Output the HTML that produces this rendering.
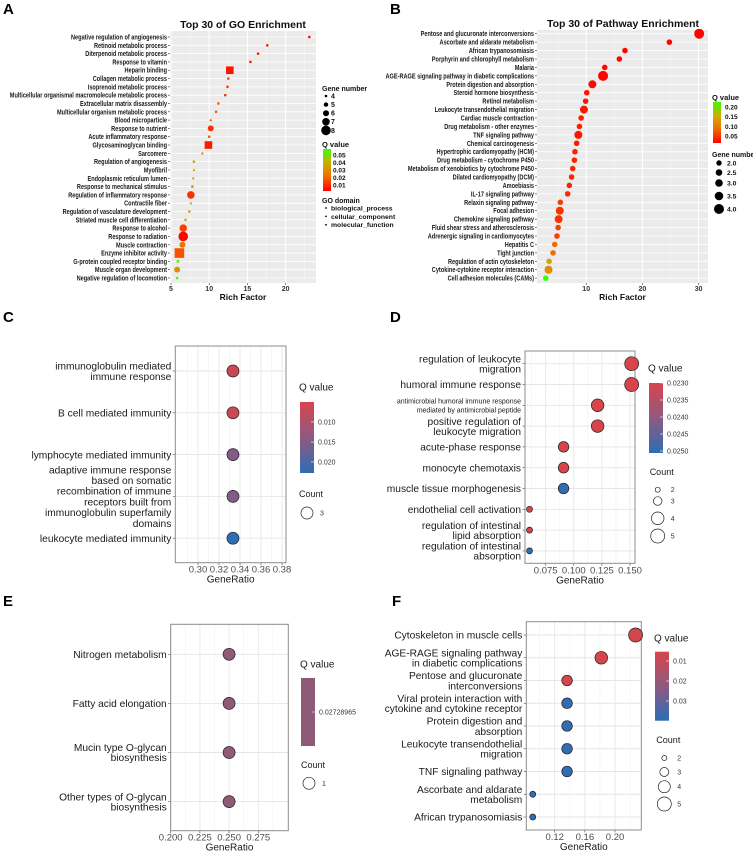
<!DOCTYPE html>
<html><head><meta charset="utf-8"><style>
html,body{margin:0;padding:0;background:#fff;width:753px;height:854px;overflow:hidden}
svg{display:block;font-family:"Liberation Sans",Arial,sans-serif}
</style></head><body>
<svg id="fig" xmlns="http://www.w3.org/2000/svg" width="753" height="854" viewBox="0 0 753 854">
<defs>
<linearGradient id="gA" x1="0" y1="0" x2="0" y2="1"><stop offset="0" stop-color="#3cff00"/><stop offset="0.35" stop-color="#d2aa00"/><stop offset="0.65" stop-color="#f06e00"/><stop offset="1" stop-color="#ff0000"/></linearGradient>
<linearGradient id="gRB" x1="0" y1="0" x2="0" y2="1"><stop offset="0" stop-color="#d8444c"/><stop offset="0.5" stop-color="#8e5a80"/><stop offset="1" stop-color="#2e6db4"/></linearGradient>
</defs>
</svg>
<script>
// ---------- Panel A data ----------
const aTerms=["Negative regulation of angiogenesis","Retinoid metabolic process","Diterpenoid metabolic process","Response to vitamin","Heparin binding","Collagen metabolic process","Isoprenoid metabolic process","Multicellular organismal macromolecule metabolic process","Extracellular matrix disassembly","Multicellular organism metabolic process","Blood microparticle","Response to nutrient","Acute inflammatory response","Glycosaminoglycan binding","Sarcomere","Regulation of angiogenesis","Myofibril","Endoplasmic reticulum lumen","Response to mechanical stimulus","Regulation of inflammatory response","Contractile fiber","Regulation of vasculature development","Striated muscle cell differentiation","Response to alcohol","Response to radiation","Muscle contraction","Enzyme inhibitor activity","G-protein coupled receptor binding","Muscle organ development","Negative regulation of locomotion"];
const aRich=[23.1,17.6,16.4,15.4,12.7,12.5,12.4,12.1,11.2,10.9,10.2,10.2,10.0,9.9,9.1,8.0,8.0,7.9,7.8,7.6,7.6,7.4,6.9,6.6,6.6,6.5,6.1,5.9,5.8,5.8];
const aGenes=[4,4,4,4,7,4,4,4,4,4,4,6,4,7,4,4,4,4,4,7,4,4,4,7,8,6,8,4,6,4];
const aQ=[0.006,0.008,0.008,0.008,0.007,0.015,0.015,0.012,0.02,0.02,0.02,0.012,0.02,0.008,0.025,0.035,0.035,0.032,0.03,0.012,0.035,0.035,0.045,0.015,0.004,0.025,0.018,0.055,0.033,0.058];
const aDomain=["bp","bp","bp","bp","mf","bp","bp","bp","bp","bp","cc","bp","bp","mf","cc","bp","cc","cc","bp","bp","cc","bp","bp","bp","bp","bp","mf","mf","bp","bp"];
const aTicks=[5,10,15,20];
// ---------- Panel B data ----------
const bTerms=["Pentose and glucuronate interconversions","Ascorbate and aldarate metabolism","African trypanosomiasis","Porphyrin and chlorophyll metabolism","Malaria","AGE-RAGE signaling pathway in diabetic complications","Protein digestion and absorption","Steroid hormone biosynthesis","Retinol metabolism","Leukocyte transendothelial migration","Cardiac muscle contraction","Drug metabolism - other enzymes","TNF signaling pathway","Chemical carcinogenesis","Hypertrophic cardiomyopathy (HCM)","Drug metabolism - cytochrome P450","Metabolism of xenobiotics by cytochrome P450","Dilated cardiomyopathy (DCM)","Amoebiasis","IL-17 signaling pathway","Relaxin signaling pathway","Focal adhesion","Chemokine signaling pathway","Fluid shear stress and atherosclerosis","Adrenergic signaling in cardiomyocytes","Hepatitis C","Tight junction","Regulation of actin cytoskeleton","Cytokine-cytokine receptor interaction","Cell adhesion molecules (CAMs)"];
const bRich=[30.1,24.8,16.9,15.9,13.3,13.0,11.1,10.1,9.9,9.6,9.1,8.8,8.6,8.3,8.0,7.9,7.6,7.4,7.0,6.7,5.4,5.3,5.1,5.0,4.8,4.4,4.1,3.4,3.3,2.8];
const bGenes=[4,2,2,2,2,4,3,2,2,3,2,2,3,2,2,2,2,2,2,2,2,3,3,2,2,2,2,2,3,2];
const bQ=[0.008,0.008,0.008,0.008,0.01,0.008,0.012,0.02,0.02,0.02,0.025,0.03,0.02,0.025,0.03,0.03,0.03,0.03,0.03,0.035,0.05,0.04,0.04,0.05,0.05,0.08,0.08,0.14,0.11,0.22];
const bTicks=[10,20,30];
// ---------- Panel C data ----------
const cTerms=[["immunoglobulin mediated","immune response"],["B cell mediated immunity"],["lymphocyte mediated immunity"],["adaptive immune response","based on somatic","recombination of immune","receptors built from","immunoglobulin superfamily","domains"],["leukocyte mediated immunity"]];
const cRatio=[0.3333,0.3333,0.3333,0.3333,0.3333];
const cQ=[0.0065,0.0065,0.015,0.015,0.0225];
const cTicks=[0.30,0.32,0.34,0.36,0.38];
const cTickLabels=["0.30","0.32","0.34","0.36","0.38"];
// ---------- Panel D data ----------
const dTerms=[["regulation of leukocyte","migration"],["humoral immune response"],["antimicrobial humoral immune response","mediated by antimicrobial peptide"],["positive regulation of ","leukocyte migration"],["acute-phase response"],["monocyte chemotaxis"],["muscle tissue morphogenesis"],["endothelial cell activation"],["regulation of intestinal","lipid absorption"],["regulation of intestinal","absorption"]];
const dRatio=[0.1515,0.1515,0.1212,0.1212,0.0909,0.0909,0.0909,0.0606,0.0606,0.0606];
const dCount=[5,5,4,4,3,3,3,2,2,2];
const dQ=[0.023,0.023,0.023,0.023,0.023,0.023,0.025,0.023,0.023,0.025];
const dTicks=[0.075,0.100,0.125,0.150];
const dTickLabels=["0.075","0.100","0.125","0.150"];
// ---------- Panel E data ----------
const eTerms=[["Nitrogen metabolism"],["Fatty acid elongation"],["Mucin type O-glycan","biosynthesis"],["Other types of O-glycan","biosynthesis"]];
const eRatio=[0.25,0.25,0.25,0.25];
const eTicks=[0.200,0.225,0.250,0.275];
const eTickLabels=["0.200","0.225","0.250","0.275"];
// ---------- Panel F data ----------
const fTerms=[["Cytoskeleton in muscle cells"],["AGE-RAGE signaling pathway","in diabetic complications"],["Pentose and glucuronate","interconversions"],["Viral protein interaction with","cytokine and cytokine receptor"],["Protein digestion and","absorption"],["Leukocyte transendothelial","migration"],["TNF signaling pathway"],["Ascorbate and aldarate","metabolism"],["African trypanosomiasis"]];
const fRatio=[0.2273,0.1818,0.1364,0.1364,0.1364,0.1364,0.1364,0.0909,0.0909];
const fCount=[5,4,3,3,3,3,3,2,2];
const fQ=[0.006,0.006,0.006,0.039,0.039,0.039,0.039,0.039,0.039];
const fTicks=[0.12,0.16,0.20];
const fTickLabels=["0.12","0.16","0.20"];

const NS='http://www.w3.org/2000/svg';
const svg=document.getElementById('fig');
function mk(tag,attrs,parent){const e=document.createElementNS(NS,tag);for(const k in attrs)e.setAttribute(k,attrs[k]);(parent||svg).appendChild(e);return e;}
function txt(s,attrs,parent){const e=mk('text',attrs,parent);e.textContent=s;return e;}
function lerpStops(stops,t){t=Math.max(0,Math.min(1,t));for(let i=1;i<stops.length;i++){if(t<=stops[i][0]){const a=stops[i-1],b=stops[i];const u=(t-a[0])/(b[0]-a[0]);return 'rgb('+[1,2,3].map(j=>Math.round(a[j]+(b[j]-a[j])*u)).join(',')+')';}}const l=stops[stops.length-1];return 'rgb('+l[1]+','+l[2]+','+l[3]+')';}
const RGstops=[[0,255,0,0],[0.35,240,110,0],[0.65,210,170,0],[1,60,255,0]];
const RBstops=[[0,216,68,76],[0.5,142,90,128],[1,46,109,180]];

[["A",3,14],["B",390,14],["C",3,322],["D",390,322],["E",3,606],["F",392,606]].forEach(p=>{
  const e=txt(p[0],{x:p[1],y:p[2],'font-size':15,'font-weight':'bold',fill:'#000'});
  
  
});

function grayPanel(o){
  const g=mk('g',{});
  
  
  const bg=mk('rect',{x:o.L,y:o.T,width:o.R-o.L,height:o.B-o.T,fill:'#ebebeb'},g);
  
  
  o.minor.forEach(v=>{const l=mk('line',{x1:o.x(v),x2:o.x(v),y1:o.T,y2:o.B,stroke:'#f7f7f7','stroke-width':0.5},g);});
  o.ticks.forEach(v=>{const l=mk('line',{x1:o.x(v),x2:o.x(v),y1:o.T,y2:o.B,stroke:'#fff','stroke-width':1},g);
    const tl=mk('line',{x1:o.x(v),x2:o.x(v),y1:o.B,y2:o.B+2,stroke:'#333','stroke-width':0.6},g);
    const t=txt(String(v),{x:o.x(v),y:o.B+8,'font-size':7,'font-weight':'bold','text-anchor':'middle',fill:'#333'},g);});
  o.terms.forEach((s,i)=>{const y=o.y(i);
    const l=mk('line',{x1:o.L,x2:o.R,y1:y,y2:y,stroke:'#fff','stroke-width':0.8},g);
    const tk=mk('line',{x1:o.L-2,x2:o.L,y1:y,y2:y,stroke:'#333','stroke-width':0.6},g);
    const t=txt(s,{transform:'translate('+(o.L-3)+','+(y+2.5)+') scale(0.8,1)','font-size':7,'font-weight':'bold','text-anchor':'end',fill:'#1a1a1a'},g);});
  const tt=txt(o.title,{x:o.tx,y:o.ty,'font-size':10.5,'font-weight':'bold','text-anchor':'middle',fill:'#111'},g);
  
  const xt=txt('Rich Factor',{x:(o.L+o.R)/2,y:o.B+17,'font-size':8.5,'font-weight':'bold','text-anchor':'middle',fill:'#111'},g);
  
  return g;
}

const xA=v=>171+(v-5)*7.64, yA=i=>37+i*8.31;
const rA={4:1.3,5:2.2,6:3,7:3.8,8:4.8};
const gA=grayPanel({name:'panel-a-go-enrichment',L:170,R:316,T:31,B:283,x:xA,y:yA,ticks:aTicks,minor:[7.5,12.5,17.5,22.5],terms:aTerms,title:'Top 30 of GO Enrichment',tx:243,ty:28});
aTerms.forEach((s,i)=>{
  const cx=xA(aRich[i]),cy=yA(i),r=rA[aGenes[i]],col=lerpStops(RGstops,(aQ[i]-0.003)/0.057);
  let e;
  if(aDomain[i]==='mf'){e=mk('rect',{x:cx-r,y:cy-r,width:2*r,height:2*r,fill:col},gA);}
  else if(aDomain[i]==='cc'){e=mk('polygon',{points:(cx)+','+(cy-r*1.2)+' '+(cx-r*1.1)+','+(cy+r*0.8)+' '+(cx+r*1.1)+','+(cy+r*0.8),fill:col},gA);}
  else{e=mk('circle',{cx:cx,cy:cy,r:r,fill:col},gA);}
  
  
});
(function(){
  const g=mk('g',{});
  
  const t1=txt('Gene  number',{x:322,y:91,'font-size':7,'font-weight':'bold',fill:'#111'},g);
  [4,5,6,7,8].forEach((n,k)=>{const y=96+k*8.6;const c=mk('circle',{cx:326,cy:y,r:rA[n],fill:'#000'},g);
    const t=txt(String(n),{x:331,y:y+2.4,'font-size':7,'font-weight':'bold',fill:'#111'},g);});
  const t2=txt('Q value',{x:322,y:147,'font-size':7.5,'font-weight':'bold',fill:'#111'},g);
  const cb=mk('rect',{x:323,y:149,width:8,height:42,fill:'url(#gA)'},g);
  ['0.05','0.04','0.03','0.02','0.01'].forEach((s,k)=>{const t=txt(s,{x:333,y:157.5+k*7.5,'font-size':6.5,'font-weight':'bold',fill:'#111'},g);});
  const t3=txt('GO  domain',{x:322,y:203,'font-size':7,'font-weight':'bold',fill:'#111'},g);
  ['biological_process','cellular_component','molecular_function'].forEach((s,k)=>{const y=208+k*8.4;const c=mk('circle',{cx:326,cy:y,r:0.9,fill:'#000'},g);
    const t=txt(s,{x:331,y:y+2.4,'font-size':6.8,'font-weight':'bold',fill:'#111'},g);});
})();

const xB=v=>530+v*5.62, yB=i=>33.7+i*8.43;
const rB={2:2.8,3:4,4:5};
const gB=grayPanel({name:'panel-b-pathway-enrichment',L:537,R:708,T:30,B:283,x:xB,y:yB,ticks:bTicks,minor:[5,15,25],terms:bTerms,title:'Top 30 of Pathway Enrichment',tx:623,ty:27});
bTerms.forEach((s,i)=>{
  const e=mk('circle',{cx:xB(bRich[i]),cy:yB(i),r:rB[bGenes[i]],fill:lerpStops(RGstops,(bQ[i]-0.005)/0.215)},gB);
  
  
});
(function(){
  const g=mk('g',{});
  
  const t2=txt('Q value',{x:712,y:100,'font-size':7.5,'font-weight':'bold',fill:'#111'},g);
  const cb=mk('rect',{x:713,y:102,width:8,height:41,fill:'url(#gA)'},g);
  ['0.20','0.15','0.10','0.05'].forEach((s,k)=>{const t=txt(s,{x:725,y:109.5+k*9.7,'font-size':6.5,'font-weight':'bold',fill:'#111'},g);});
  const t1=txt('Gene  number',{x:712,y:157,'font-size':7,'font-weight':'bold',fill:'#111'},g);
  [['2.0',2.7,163],['2.5',3.3,172.5],['3.0',3.8,183],['3.5',4.3,196],['4.0',5,209]].forEach(a=>{const c=mk('circle',{cx:719,cy:a[2],r:a[1],fill:'#000'},g);
    const t=txt(a[0],{x:727,y:a[2]+2.4,'font-size':6.8,'font-weight':'bold',fill:'#111'},g);});
})();

function whitePanel(o){
  const g=mk('g',{});
  
  
  const bg=mk('rect',{x:o.L,y:o.T,width:o.R-o.L,height:o.B-o.T,fill:'#fff'},g);
  
  o.minor.forEach(v=>{const l=mk('line',{x1:o.x(v),x2:o.x(v),y1:o.T,y2:o.B,stroke:'#f0f0f0','stroke-width':0.6},g);});
  o.ticks.forEach((v,k)=>{const X=o.x(v);
    const l=mk('line',{x1:X,x2:X,y1:o.T,y2:o.B,stroke:'#e6e6e6','stroke-width':0.9},g);
    const tk=mk('line',{x1:X,x2:X,y1:o.B,y2:o.B+2.5,stroke:'#444','stroke-width':0.6},g);
    const t=txt(o.tickLabels[k],{x:X,y:o.B+10,'font-size':9.5,'text-anchor':'middle',fill:'#4d4d4d'},g);});
  o.terms.forEach((lines,i)=>{const y=o.y(i);
    const l=mk('line',{x1:o.L,x2:o.R,y1:y,y2:y,stroke:'#e6e6e6','stroke-width':0.9},g);
    const tk=mk('line',{x1:o.L-2.5,x2:o.L,y1:y,y2:y,stroke:'#444','stroke-width':0.6},g);
    const small=o.smallRow===i; const fs=small?7:10.2; const lh=small?9:o.lh;
    const y0=y-(lines.length-1)*lh/2+fs*0.36;
    lines.forEach((s,j)=>{const t=txt(s,{x:o.L-4,y:y0+j*lh,'font-size':fs,'text-anchor':'end',fill:'#1a1a1a'},g);});
  });
  const fr=mk('rect',{x:o.L,y:o.T,width:o.R-o.L,height:o.B-o.T,fill:'none',stroke:'#8c8c8c','stroke-width':1},g);
  
  const xt=txt('GeneRatio',{x:(o.L+o.R)/2,y:o.B+20,'font-size':10,'text-anchor':'middle',fill:'#1a1a1a'},g);
  
  return g;
}
function qLegend(parent,x,tY,cbTop,cbBot,fill,labels,labelYs){
  const t=txt('Q value',{x:x-1,y:tY+3.5,'font-size':10,fill:'#1a1a1a'},parent);
  const cb=mk('rect',{x:x,y:cbTop,width:14,height:cbBot-cbTop,fill:fill},parent);
  labels.forEach((s,k)=>{const tk=mk('line',{x1:x+11,x2:x+14,y1:labelYs[k],y2:labelYs[k],stroke:'#fff','stroke-width':0.6},parent);
    const l=txt(s,{x:x+18,y:labelYs[k]+2.5,'font-size':7,fill:'#333'},parent);});
}
function countLegend(parent,x,tY,entries){
  const t=txt('Count',{x:x-8,y:tY+3,'font-size':9,fill:'#1a1a1a'},parent);
  entries.forEach(a=>{const c=mk('circle',{cx:x,cy:a[2],r:a[1],fill:'none',stroke:'#222','stroke-width':0.7},parent);
    const l=txt(a[0],{x:x+13,y:a[2]+2.5,'font-size':7,fill:'#333'},parent);});
}
const rCount={1:6,2:3,3:5.3,4:6.3,5:7};

const xC=v=>198+(v-0.30)*1050, yC=i=>371+i*41.8;
const gC=whitePanel({name:'panel-c-go-dotplot',L:175.3,R:286,T:346,B:562.7,x:xC,y:yC,ticks:cTicks,tickLabels:cTickLabels,minor:[0.29,0.31,0.33,0.35,0.37],terms:cTerms,lh:10.7});
cTerms.forEach((s,i)=>{const e=mk('circle',{cx:xC(cRatio[i]),cy:yC(i),r:6,fill:lerpStops(RBstops,(cQ[i]-0.005)/0.0177),stroke:'#222','stroke-width':0.7},gC);
  });
qLegend(gC,300,387,402,473,'url(#gRB)',['0.010','0.015','0.020'],[422,442,462]);
countLegend(gC,307,494,[['3',6,513]]);

const xD=v=>545.7+(v-0.075)*1124, yD=i=>363.7+i*20.8;
const gD=whitePanel({name:'panel-d-go-dotplot',L:525,R:635,T:351,B:563.3,x:xD,y:yD,ticks:dTicks,tickLabels:dTickLabels,minor:[0.0625,0.0875,0.1125,0.1375],terms:dTerms,lh:10,smallRow:2});
dTerms.forEach((s,i)=>{const e=mk('circle',{cx:xD(dRatio[i]),cy:yD(i),r:rCount[dCount[i]],fill:lerpStops(RBstops,(dQ[i]-0.023)/0.002),stroke:'#222','stroke-width':0.7},gD);
  });
qLegend(gD,649,368,383,453,'url(#gRB)',['0.0230','0.0235','0.0240','0.0245','0.0250'],[383,400,417,434,451]);
countLegend(gD,657.7,472,[['2',2.5,489.7],['3',4.3,501],['4',6.3,518.3],['5',7,536]]);

const xE=v=>170.7+(v-0.2)*1168, yE=i=>654.3+i*49.1;
const gE=whitePanel({name:'panel-e-kegg-dotplot',L:170.7,R:288.3,T:624.3,B:830.7,x:xE,y:yE,ticks:eTicks,tickLabels:eTickLabels,minor:[0.2125,0.2375,0.2625,0.2875],terms:eTerms,lh:10});
eTerms.forEach((s,i)=>{const e=mk('circle',{cx:xE(eRatio[i]),cy:yE(i),r:6,fill:'#8e5a78',stroke:'#222','stroke-width':0.7},gE);
  });
qLegend(gE,301,664,678,746,'#8e5a78',['0.02728965'],[712]);
countLegend(gE,309,765,[['1',6,783.3]]);

const xF=v=>554.7+(v-0.12)*754, yF=i=>635+i*22.75;
const gF=whitePanel({name:'panel-f-kegg-dotplot',L:526.3,R:641.3,T:621.7,B:830,x:xF,y:yF,ticks:fTicks,tickLabels:fTickLabels,minor:[0.10,0.14,0.18,0.22],terms:fTerms,lh:10.3});
fTerms.forEach((s,i)=>{const e=mk('circle',{cx:xF(fRatio[i]),cy:yF(i),r:rCount[fCount[i]],fill:lerpStops(RBstops,(fQ[i]-0.0053)/0.0345),stroke:'#222','stroke-width':0.7},gF);
  });
qLegend(gF,655,638,651.7,720.7,'url(#gRB)',['0.01','0.02','0.03'],[661,681,701]);
countLegend(gF,664.3,740,[['2',2.5,758],['3',4.5,772],['4',6,786.7],['5',7,804]]);
</script>
</body></html>
